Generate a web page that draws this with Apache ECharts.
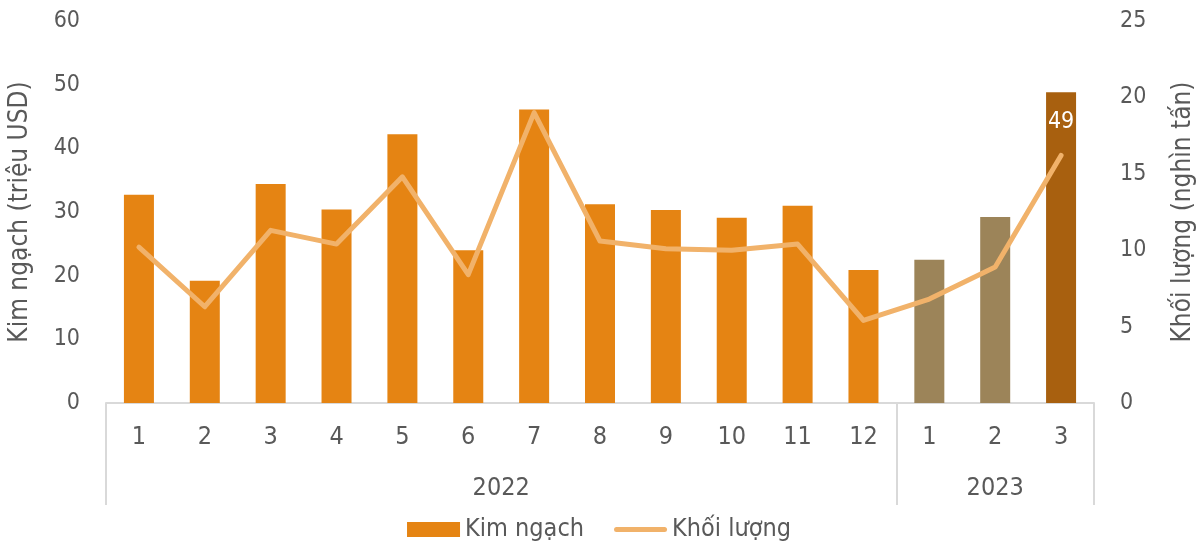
<!DOCTYPE html>
<html>
<head>
<meta charset="utf-8">
<script src="https://cdn.jsdelivr.net/npm/echarts@6/dist/echarts.min.js"></script>
<style>
html,body{margin:0;padding:0;background:#fff;}
#chart{width:1198px;height:545px;}
</style>
</head>
<body>
<div id="chart"></div>
<script>
var months = ['1','2','3','4','5','6','7','8','9','10','11','12','1','2','3'];
var years = ['2022','2023'];
var yearSpans = [12, 3];
var kimNgach = [32.7, 19.2, 34.4, 30.4, 42.2, 24.0, 46.1, 31.2, 30.3, 29.1, 31.0, 20.9, 22.5, 29.2, 48.8];
var khoiLuong = [10.2, 6.3, 11.3, 10.4, 14.8, 8.4, 19.0, 10.6, 10.1, 10.0, 10.4, 5.4, 6.8, 8.9, 16.2];
var leftTicks = {min: 0, max: 60, interval: 10};
var rightTicks = {min: 0, max: 25, interval: 5};
var labelIndex = 14;
var labelText = '49';

var FONT = '"DejaVu Sans Condensed", "DejaVu Sans", sans-serif';
var TXT = '#595959';
var AX = '#D9D9D9';

var bounds = [0];
var centers = [];
yearSpans.forEach(function (s) {
  var start = bounds[bounds.length - 1];
  centers.push(start + s / 2);
  bounds.push(start + s);
});

var barData = kimNgach.map(function (v, i) {
  var color = '#E58413';
  if (i >= 12 && i < 14) color = '#9C8459';
  if (i === 14) color = '#A8600F';
  var item = {value: v, itemStyle: {color: color}};
  if (i === labelIndex) {
    item.label = {show: true, position: 'insideTop', distance: 18, color: '#fff',
      fontSize: 23, fontFamily: FONT, formatter: labelText};
  }
  return item;
});

var chart = echarts.init(document.getElementById('chart'), null, {renderer: 'canvas'});
chart.setOption({
  animation: false,
  textStyle: {fontFamily: FONT, color: TXT},
  grid: {left: 106, right: 104, top: 21, bottom: 142, containLabel: false, outerBoundsMode: 'none'},
  legend: {
    top: 517, left: 'center', padding: 0, itemGap: 30,
    itemWidth: 53, itemHeight: 15,
    textStyle: {fontSize: 25, color: TXT, fontFamily: FONT},
    data: [
      {name: 'Kim ngạch', icon: 'rect'},
      {name: 'Khối lượng', icon: 'path://M2.5,0 L50.5,0 Q53,0 53,2.5 Q53,5 50.5,5 L2.5,5 Q0,5 0,2.5 Q0,0 2.5,0 Z'}
    ]
  },
  xAxis: [
    {
      type: 'category', data: months, position: 'bottom',
      axisLine: {show: true, lineStyle: {color: AX, width: 2}},
      axisTick: {show: false},
      axisLabel: {fontSize: 25, color: TXT, margin: 22, fontFamily: FONT, interval: 0},
      splitLine: {show: false}
    },
    {
      type: 'value', min: 0, max: months.length, position: 'bottom',
      axisLine: {show: false},
      axisTick: {show: true, customValues: bounds, length: 102, lineStyle: {color: AX, width: 2}},
      axisLabel: {show: true, customValues: centers, fontSize: 25, color: TXT, margin: 73, fontFamily: FONT,
        formatter: function (v) { var k = centers.indexOf(v); return k >= 0 ? years[k] : ''; }},
      splitLine: {show: false}
    }
  ],
  yAxis: [
    {
      type: 'value', min: leftTicks.min, max: leftTicks.max, interval: leftTicks.interval, position: 'left',
      name: 'Kim ngạch (triệu USD)', nameLocation: 'middle', nameGap: 73, nameRotate: 90,
      nameTextStyle: {fontSize: 26, color: TXT, fontFamily: FONT},
      axisLine: {show: false}, axisTick: {show: false},
      axisLabel: {fontSize: 23, color: TXT, margin: 26, fontFamily: FONT},
      splitLine: {show: false}
    },
    {
      type: 'value', min: rightTicks.min, max: rightTicks.max, interval: rightTicks.interval, position: 'right',
      name: 'Khối lượng (nghìn tấn)', nameLocation: 'middle', nameGap: 76, nameRotate: 90,
      nameTextStyle: {fontSize: 26, color: TXT, fontFamily: FONT},
      axisLine: {show: false}, axisTick: {show: false},
      axisLabel: {fontSize: 23, color: TXT, margin: 26, fontFamily: FONT},
      splitLine: {show: false}
    }
  ],
  series: [
    {
      name: 'Kim ngạch', type: 'bar', xAxisIndex: 0, yAxisIndex: 0,
      barWidth: 30, data: barData,
      itemStyle: {color: '#E58413'}
    },
    {
      name: 'Khối lượng', type: 'line', xAxisIndex: 0, yAxisIndex: 1,
      data: khoiLuong, symbol: 'none', smooth: false,
      itemStyle: {color: '#F1B26A'},
      lineStyle: {color: '#F1B26A', width: 5, cap: 'round', join: 'round'}
    }
  ]
});
</script>
</body>
</html>
